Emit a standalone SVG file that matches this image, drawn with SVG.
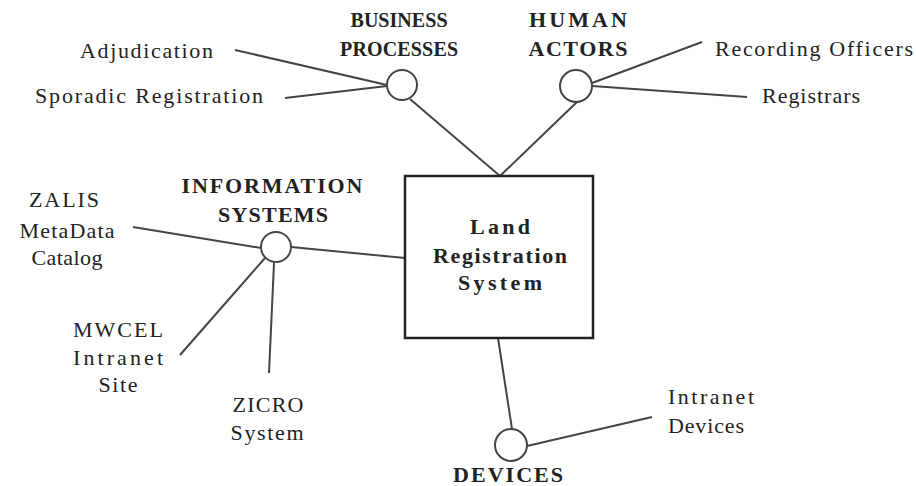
<svg xmlns="http://www.w3.org/2000/svg" width="916" height="486" viewBox="0 0 916 486">
<style>
.bg{fill:#fff}
.ln{stroke:#444;stroke-width:2;fill:none}
.hub{fill:#fff;stroke:#444;stroke-width:2}
.box{fill:#fff;stroke:#222;stroke-width:2.5}
text{font-family:"Liberation Serif","Times New Roman",serif;fill:#222}
.t{font-size:22px}
.h{font-size:22px;font-weight:bold}
.s{font-size:20px}
.c{text-anchor:middle}
</style>
<rect class="bg" width="916" height="486"/>
<g id="connectors">
<line class="ln" x1="235" y1="50" x2="387" y2="85"/>
<line class="ln" x1="285" y1="98" x2="387" y2="86"/>
<line class="ln" x1="410" y1="99" x2="500" y2="176"/>
<line class="ln" x1="578" y1="101" x2="500" y2="176"/>
<line class="ln" x1="592" y1="83" x2="702" y2="42"/>
<line class="ln" x1="592" y1="86" x2="747" y2="97"/>
<line class="ln" x1="133" y1="227" x2="261" y2="248"/>
<line class="ln" x1="291" y1="247" x2="405" y2="258"/>
<line class="ln" x1="180" y1="355" x2="265" y2="258"/>
<line class="ln" x1="269" y1="373" x2="274" y2="263"/>
<line class="ln" x1="498" y1="338" x2="512" y2="429"/>
<line class="ln" x1="527" y1="446" x2="652" y2="417"/>
</g>
<g id="land-registration-system">
<rect class="box" x="405" y="176" width="188" height="162"/>
<text class="h c" x="500" y="234" textLength="60">Land</text>
<text class="h c" x="500" y="263" textLength="134">Registration</text>
<text class="h c" x="500" y="290" textLength="84">System</text>
</g>
<g id="business-processes">
<circle class="hub" cx="402" cy="85" r="15"/>
<text class="h s c" x="399" y="27" textLength="97">BUSINESS</text>
<text class="h s c" x="399" y="56" textLength="118">PROCESSES</text>
</g>
<g id="human-actors">
<circle class="hub" cx="576" cy="86" r="16"/>
<text class="h c" x="578" y="27" textLength="98">HUMAN</text>
<text class="h c" x="578" y="56" textLength="99">ACTORS</text>
</g>
<g id="information-systems">
<circle class="hub" cx="276" cy="247" r="15"/>
<text class="h c" x="272" y="193" textLength="181">INFORMATION</text>
<text class="h c" x="273" y="222" textLength="110">SYSTEMS</text>
</g>
<g id="devices">
<circle class="hub" cx="511" cy="445" r="16"/>
<text class="h c" x="508" y="482" textLength="110">DEVICES</text>
</g>
<g id="adjudication"><text class="t" x="80" y="58" textLength="133">Adjudication</text></g>
<g id="sporadic-registration"><text class="t" x="35" y="103" textLength="228">Sporadic Registration</text></g>
<g id="recording-officers"><text class="t" x="715" y="56" textLength="198">Recording Officers</text></g>
<g id="registrars"><text class="t" x="762" y="103" textLength="98">Registrars</text></g>
<g id="zalis-metadata-catalog">
<text class="t c" x="64" y="207" textLength="70">ZALIS</text>
<text class="t c" x="67" y="238" textLength="95">MetaData</text>
<text class="t c" x="67" y="265" textLength="71">Catalog</text>
</g>
<g id="mwcel-intranet-site">
<text class="t c" x="118" y="337" textLength="90">MWCEL</text>
<text class="t c" x="118" y="365" textLength="90">Intranet</text>
<text class="t c" x="118" y="392" textLength="39">Site</text>
</g>
<g id="zicro-system">
<text class="t c" x="268" y="412" textLength="71">ZICRO</text>
<text class="t c" x="267" y="440" textLength="73">System</text>
</g>
<g id="intranet-devices">
<text class="t" x="668" y="404" textLength="86">Intranet</text>
<text class="t" x="668" y="433" textLength="76">Devices</text>
</g>
</svg>
